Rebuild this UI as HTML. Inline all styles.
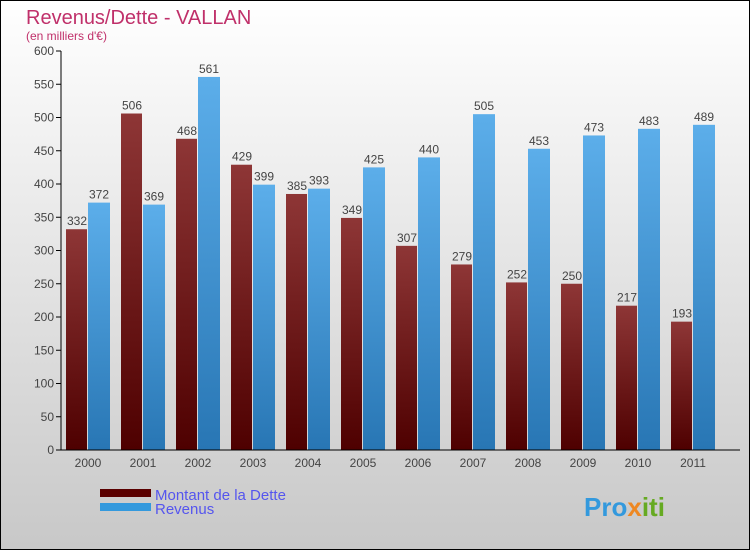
<!DOCTYPE html>
<html><head><meta charset="utf-8"><style>
body{margin:0}
svg text{font-family:"Liberation Sans",sans-serif}
</style></head><body>
<svg id="c" width="750" height="550" xmlns="http://www.w3.org/2000/svg">
<defs>
<linearGradient id="bg" x1="0" y1="0" x2="0" y2="1"><stop offset="0" stop-color="#ffffff"/><stop offset="1" stop-color="#c8c8c8"/></linearGradient>
<linearGradient id="gd" x1="0" y1="0" x2="0" y2="1"><stop offset="0" stop-color="#8e3636"/><stop offset="1" stop-color="#4e0000"/></linearGradient>
<linearGradient id="gr" x1="0" y1="0" x2="0" y2="1"><stop offset="0" stop-color="#5caeea"/><stop offset="1" stop-color="#2876b4"/></linearGradient>
</defs>
<rect x="0.5" y="0.5" width="749" height="549" fill="url(#bg)" stroke="#000"/>
<text x="26" y="24" font-size="20" fill="#c0306a">Revenus/Dette - VALLAN</text>
<text x="26" y="40" font-size="12" fill="#c0306a">(en milliers d'€)</text>
<g id="plot"></g>
<rect x="100" y="489" width="51" height="8" fill="#5a0000"/>
<text x="155" y="500" font-size="15" fill="#5555ee">Montant de la Dette</text>
<rect x="100" y="503" width="51" height="8" fill="#3399dd"/>
<text x="155" y="514" font-size="15" fill="#5555ee">Revenus</text>
<text x="584" y="516" font-size="26" font-weight="bold" fill="#3399dd">Pro<tspan fill="#ee8822">x</tspan><tspan fill="#66aa22">iti</tspan></text>
</svg>
<script>
const years=["2000","2001","2002","2003","2004","2005","2006","2007","2008","2009","2010","2011"];
const dette=[332,506,468,429,385,349,307,279,252,250,217,193];
const revenus=[372,369,561,399,393,425,440,505,453,473,483,489];
const ticks=[0,50,100,150,200,250,300,350,400,450,500,550,600];
const NS="http://www.w3.org/2000/svg";
const g=document.getElementById("plot");
const y=v=>450-v*399/600;
const x=i=>88+i*55;
function el(t,a){const e=document.createElementNS(NS,t);for(const k in a)e.setAttribute(k,a[k]);g.appendChild(e);return e;}
ticks.forEach(t=>{
 const l=el("line",{x1:56,x2:61,y1:y(t),y2:y(t),stroke:"#000"});
 
 
 const tx=el("text",{x:54,y:y(t)+4,"font-size":12,"text-anchor":"end",fill:"#444"});tx.textContent=t;
 
 
});
years.forEach((yr,i)=>{
 const b1=el("rect",{x:x(i)-22,y:y(dette[i]),width:21,height:450-y(dette[i]),fill:"url(#gd)"});
 
 
 const b2=el("rect",{x:x(i),y:y(revenus[i]),width:22,height:450-y(revenus[i]),fill:"url(#gr)"});
 
 
 const t1=el("text",{x:x(i)-11,y:y(dette[i])-4,"font-size":12,"text-anchor":"middle",fill:"#444"});t1.textContent=dette[i];
 
 
 const t2=el("text",{x:x(i)+11,y:y(revenus[i])-4,"font-size":12,"text-anchor":"middle",fill:"#444"});t2.textContent=revenus[i];
 
 
 const xt=el("text",{x:x(i),y:467,"font-size":12,"text-anchor":"middle",fill:"#444"});xt.textContent=yr;
 
 
});
const ya=el("line",{x1:61,x2:61,y1:51,y2:450,stroke:"#000"});


const xa=el("line",{x1:56,x2:740,y1:450,y2:450,stroke:"#000"});


</script>
</body></html>
